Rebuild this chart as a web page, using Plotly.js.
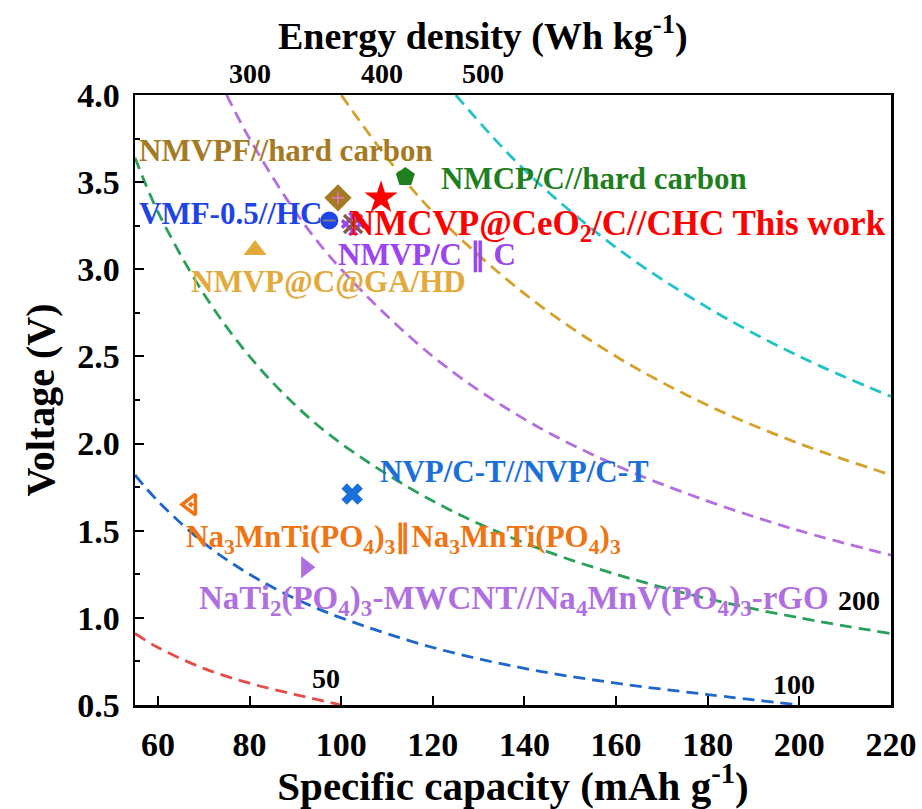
<!DOCTYPE html>
<html>
<head>
<meta charset="utf-8">
<script src="https://cdn.plot.ly/plotly-3.0.1.min.js"></script>
<style>html,body{margin:0;padding:0;background:#fff;}#chart{width:922px;height:809px;}</style>
</head>
<body>
<div id="chart"></div>
<script>
// ---- data ----
const materials = ["NMVPF//hard carbon","NMCP/C//hard carbon","NMCVP@CeO2/C//CHC","VMF-0.5//HC","NMVP/C || C","NMVP@C@GA/HD","NVP/C-T//NVP/C-T","Na3MnTi(PO4)3||Na3MnTi(PO4)3","NaTi2(PO4)3-MWCNT//Na4MnV(PO4)3-rGO"];
const capacity = [99.3, 114.0, 108.7, 97.4, 102.6, 81.2, 102.4, 67.2, 92.3];
const voltage  = [3.41, 3.53, 3.41, 3.28, 3.26, 3.11, 1.71, 1.65, 1.29];

// iso-energy guide lines (Wh/kg)
const energyLevels = [50, 100, 200, 300, 400, 500];
const iso50_cap  = [55, 60, 70, 80, 90, 100];
const iso50_v    = [0.91, 0.83, 0.71, 0.625, 0.56, 0.50];
const iso100_cap = [55, 60, 70, 80, 90, 100, 120, 140, 160, 180, 200];
const iso100_v   = [1.82, 1.67, 1.43, 1.25, 1.11, 1.00, 0.83, 0.71, 0.625, 0.56, 0.50];
const iso200_cap = [55, 60, 70, 80, 90, 100, 120, 140, 160, 180, 200, 220];
const iso200_v   = [3.64, 3.33, 2.86, 2.50, 2.22, 2.00, 1.67, 1.43, 1.25, 1.11, 1.00, 0.91];
const iso300_cap = [75, 80, 90, 100, 120, 140, 160, 180, 200, 220];
const iso300_v   = [4.00, 3.75, 3.33, 3.00, 2.50, 2.14, 1.875, 1.67, 1.50, 1.36];
const iso400_cap = [100, 110, 120, 140, 160, 180, 200, 220];
const iso400_v   = [4.00, 3.64, 3.33, 2.86, 2.50, 2.22, 2.00, 1.82];
const iso500_cap = [125, 140, 160, 180, 200, 220];
const iso500_v   = [4.00, 3.57, 3.125, 2.78, 2.50, 2.27];

const xTicks = [60, 80, 100, 120, 140, 160, 180, 200, 220];
const yTicks = [0.5, 1.0, 1.5, 2.0, 2.5, 3.0, 3.5, 4.0];

// ---- styles ----
const isoColors = ["#e84a4a", "#1f66cc", "#2aa05a", "#b36ee0", "#d4a12a", "#22c3c8"];
const isoCaps = [iso50_cap, iso100_cap, iso200_cap, iso300_cap, iso400_cap, iso500_cap];
const isoVs   = [iso50_v, iso100_v, iso200_v, iso300_v, iso400_v, iso500_v];

const mColors  = ["#a57a22", "#1f7f1f", "#ff0000", "#1e44e6", "#9a45f0", "#e2aa3a", "#1a6fd8", "#f07412", "#b06fe0"];
const mSymbols = ["diamond", "pentagon", "star", "circle", "hash-open", "triangle-up", "x", "triangle-left-open-dot", "triangle-right"];
const mSizes   = [21, 20, 25, 18, 21, 20, 19, 18, 19];

const traces = [];
energyLevels.forEach((e, i) => {
  traces.push({
    x: isoCaps[i], y: isoVs[i], mode: "lines", type: "scatter",
    line: {color: isoColors[i], width: 2.8, dash: "12px,7px", shape: "spline"},
    hoverinfo: "skip", showlegend: false, cliponaxis: true
  });
});
materials.forEach((m, i) => {
  const isOpen = mSymbols[i].indexOf("open") >= 0;
  traces.push({
    x: [capacity[i]], y: [voltage[i]], mode: "markers", type: "scatter", name: m,
    marker: {
      symbol: mSymbols[i], size: mSizes[i], color: mColors[i],
      angle: mSymbols[i] === "hash-open" ? 45 : 0,
      line: {color: mColors[i], width: isOpen ? 3.5 : 0}
    },
    showlegend: false, cliponaxis: false
  });
});
// inner details of some markers
traces.push({x: [capacity[4]], y: [voltage[4]], mode: "markers", type: "scatter",
  marker: {symbol: "x-thin-open", size: 18, line: {color: mColors[4], width: 3.5}}, showlegend: false, hoverinfo: "skip"});
traces.push({x: [capacity[0]], y: [voltage[0]], mode: "markers", type: "scatter",
  marker: {symbol: "cross-thin-open", size: 9, line: {color: "#e8d2a0", width: 1.5}}, showlegend: false, hoverinfo: "skip"});
traces.push({x: [capacity[3]], y: [voltage[3]], mode: "markers", type: "scatter",
  marker: {symbol: "line-ew-open", size: 9, line: {color: "#ffffff", width: 2}}, showlegend: false, hoverinfo: "skip"});

const F = "Liberation Serif, Times New Roman, serif";
function ann(text, x, y, color, size, anchor, yref) {
  return {text: "<b>" + text + "</b>", x: x, y: y, xref: "x", yref: yref || "y",
    xanchor: anchor || "left", yanchor: "middle", showarrow: false,
    font: {family: F, size: size || 31, color: color}};
}
const annotations = [
  ann("NMVPF//hard carbon", 55.4, 3.68, mColors[0]),
  ann("NMCP/C//hard carbon", 121.4, 3.52, mColors[1]),
  ann("VMF-0.5//HC", 55.4, 3.32, mColors[3]),
  ann("NMCVP@CeO<sub>2</sub>/C//CHC This work", 101.2, 3.25, mColors[2], 35),
  ann("NMVP/C ∥ C", 98.8, 3.08, mColors[4]),
  ann("NMVP@C@GA/HD", 66.8, 2.93, mColors[5]),
  ann("NVP/C-T//NVP/C-T", 108.0, 1.84, mColors[6]),
  ann("Na<sub>3</sub>MnTi(PO<sub>4</sub>)<sub>3</sub>∥Na<sub>3</sub>MnTi(PO<sub>4</sub>)<sub>3</sub>", 65.7, 1.45, mColors[7]),
  ann("NaTi<sub>2</sub>(PO<sub>4</sub>)<sub>3</sub>-MWCNT//Na<sub>4</sub>MnV(PO<sub>4</sub>)<sub>3</sub>-rGO", 68.6, 1.10, mColors[8], 33),
  ann("200", 213, 1.10, "#000", 28, "center"),
  ann("50", 96.7, 0.65, "#000", 28, "center"),
  ann("100", 198.9, 0.62, "#000", 28, "center"),
  ann("300", 80.1, 1.035, "#000", 28, "center", "paper"),
  ann("400", 109.0, 1.035, "#000", 28, "center", "paper"),
  ann("500", 131.0, 1.035, "#000", 28, "center", "paper"),
  {text: "<b>Energy density (Wh kg<sup>-1</sup>)</b>", x: 0.46, y: 1.1, xref: "paper", yref: "paper",
    xanchor: "center", yanchor: "middle", showarrow: false, font: {family: F, size: 38, color: "#000"}}
];

const layout = {
  width: 922, height: 809,
  margin: {l: 135, r: 31, t: 95, b: 104},
  paper_bgcolor: "#fff", plot_bgcolor: "#fff",
  font: {family: F, color: "#000"},
  xaxis: {
    range: [55, 220], tickvals: xTicks, ticktext: xTicks.map(v => "<b>" + v + "</b>"),
    ticks: "inside", ticklen: 9, tickwidth: 2, tickcolor: "#000",
    showline: true, linewidth: 2.5, linecolor: "#000", mirror: true,
    showgrid: false, zeroline: false, ticklabelstandoff: 8,
    tickfont: {family: F, size: 34, color: "#000"},
    title: {text: "<b>Specific capacity (mAh g<sup>-1</sup>)</b>", font: {family: F, size: 41, color: "#000"}, standoff: 8}
  },
  yaxis: {
    range: [0.5, 4.0], tickvals: yTicks, ticktext: yTicks.map(v => "<b>" + v.toFixed(1) + "</b>"),
    ticks: "inside", ticklen: 9, tickwidth: 2, tickcolor: "#000",
    minor: {dtick: 0.25, ticks: "inside", ticklen: 5, tickwidth: 2, tickcolor: "#000"},
    showline: true, linewidth: 2.5, linecolor: "#000", mirror: true,
    showgrid: false, zeroline: false, ticklabelstandoff: 6,
    tickfont: {family: F, size: 34, color: "#000"},
    title: {text: "<b>Voltage (V)</b>", font: {family: F, size: 40, color: "#000"}, standoff: 10}
  },
  annotations: annotations,
  showlegend: false
};

Plotly.newPlot("chart", traces, layout, {displayModeBar: false, staticPlot: true});
</script>
</body>
</html>
